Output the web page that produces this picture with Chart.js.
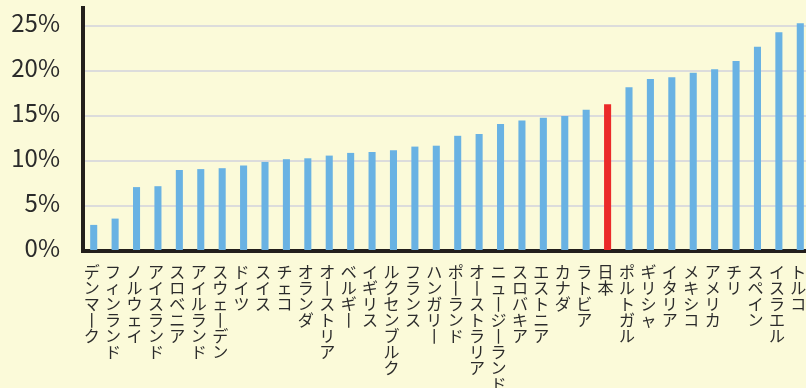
<!DOCTYPE html>
<html lang="ja">
<head>
<meta charset="utf-8">
<script src="https://cdn.jsdelivr.net/npm/chart.js@4/dist/chart.umd.min.js"></script>
<style>
  html, body { margin: 0; padding: 0; overflow: hidden; background: #FBFAD9; }
  #wrap { width: 806px; height: 388px; overflow: hidden; }
  canvas { display: block; }
</style>
</head>
<body>
<div id="wrap"><canvas id="c" width="811" height="388" style="width:811px;height:388px"></canvas></div>
<script>
// Countries, ordered from lowest to highest rate
const countries = [
  'デンマーク', 'フィンランド', 'ノルウェイ', 'アイスランド', 'スロベニア',
  'アイルランド', 'スウェーデン', 'ドイツ', 'スイス', 'チェコ',
  'オランダ', 'オーストリア', 'ベルギー', 'イギリス', 'ルクセンブルク',
  'フランス', 'ハンガリー', 'ポーランド', 'オーストラリア', 'ニュージーランド',
  'スロバキア', 'エストニア', 'カナダ', 'ラトビア', '日本',
  'ポルトガル', 'ギリシャ', 'イタリア', 'メキシコ', 'アメリカ',
  'チリ', 'スペイン', 'イスラエル', 'トルコ'
];

// Rate per country (%)
const rates = [
  2.9, 3.6, 7.1, 7.2, 9.0,
  9.1, 9.2, 9.5, 9.9, 10.2,
  10.3, 10.6, 10.9, 11.0, 11.2,
  11.6, 11.7, 12.8, 13.0, 14.1,
  14.5, 14.8, 15.0, 15.7, 16.3,
  18.2, 19.1, 19.3, 19.8, 20.2,
  21.1, 22.7, 24.3, 25.3
];

const highlighted = '日本';
const yTicks = [0, 5, 10, 15, 20, 25];

// Vertical writing: one character per line, long vowel mark drawn as an upright stroke
const verticalLabels = countries.map(name =>
  Array.from(name).map(ch => (ch === 'ー' ? '丨' : ch))
);

const barColors = countries.map(n => (n === highlighted ? '#EB2A29' : '#69B2E3'));

new Chart(document.getElementById('c'), {
  type: 'bar',
  data: {
    labels: verticalLabels,
    datasets: [{
      data: rates,
      backgroundColor: barColors,
      borderWidth: 0,
      categoryPercentage: 1,
      barPercentage: 0.33
    }]
  },
  options: {
    responsive: false,
    animation: false,
    events: [],
    layout: { padding: { top: 8, right: 0, bottom: 0, left: 0 } },
    plugins: {
      legend: { display: false },
      tooltip: { enabled: false }
    },
    scales: {
      x: {
        grid: { display: false, drawTicks: false },
        border: { display: true, color: '#231F1C', width: 4 },
        ticks: {
          autoSkip: false,
          maxRotation: 0,
          minRotation: 0,
          padding: 13,
          labelOffset: -2,
          color: '#2B2B2B',
          font: { family: '"Noto Sans CJK JP", sans-serif', size: 16, lineHeight: 1.0 }
        },
        afterFit(scale) {
          scale.height = 137;
          scale.paddingLeft = 0;
          scale.paddingRight = 0;
        }
      },
      y: {
        min: 0,
        max: 27,
        grid: { color: '#DCDCDC', lineWidth: 2, drawTicks: false },
        border: { display: true, color: '#231F1C', width: 4 },
        ticks: {
          stepSize: 5,
          padding: 23,
          labelOffset: -3,
          color: '#2B2B2B',
          font: { family: '"Noto Sans CJK JP", sans-serif', size: 24 },
          callback: v => v + '%'
        },
        afterBuildTicks(scale) {
          scale.ticks = yTicks.map(v => ({ value: v }));
        },
        afterFit(scale) {
          scale.width = 83;
          scale.paddingTop = 0;
          scale.paddingBottom = 0;
        }
      }
    }
  },
  plugins: [{
    id: 'pageBackground',
    beforeDraw(chart) {
      const ctx = chart.ctx;
      ctx.save();
      ctx.fillStyle = '#FBFAD9';
      ctx.fillRect(0, 0, chart.width, chart.height);
      ctx.restore();
    }
  }]
});
</script>
</body>
</html>
